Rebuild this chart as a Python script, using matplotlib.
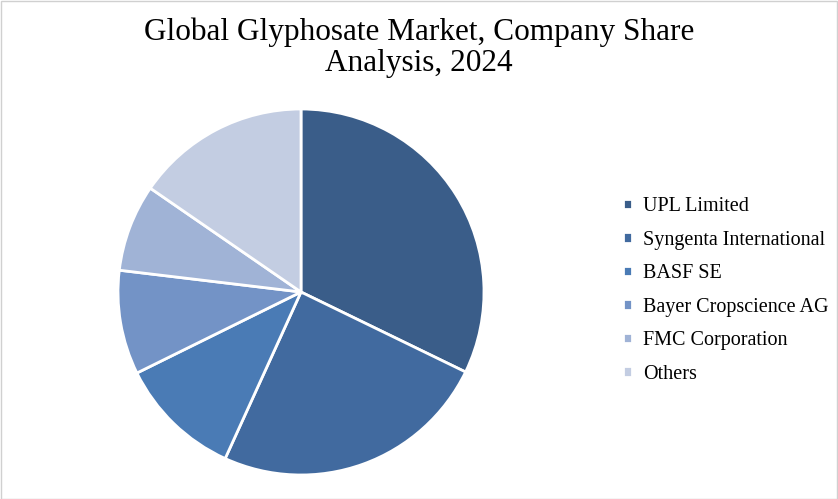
import matplotlib
matplotlib.use("Agg")
import matplotlib.pyplot as plt
from matplotlib.patches import Rectangle

labels = ["UPL Limited", "Syngenta International", "BASF SE", "Bayer Cropscience AG", "FMC Corporation", "Others"]
shares = [32.2, 24.6, 10.9, 9.2, 7.7, 15.4]
colors = ["#3a5d89", "#416a9f", "#4a7bb5", "#7393c6", "#a0b3d6", "#c3cde2"]

plt.rcParams['font.family'] = ['Liberation Serif', 'DejaVu Serif']
fig = plt.figure(figsize=(8.38, 4.99), dpi=100)
fig.patches.append(Rectangle((0.001, 0.001), 0.998, 0.997, transform=fig.transFigure,
                             fill=False, edgecolor="#d0d0d0", linewidth=1))
ax = fig.add_axes([301/838 - 183/838, 1 - (292 + 183)/499, 366/838, 366/499])
wedges, _ = ax.pie(shares, colors=colors, startangle=90, counterclock=False,
                   wedgeprops=dict(edgecolor="white", linewidth=2))
ax.set_xlim(-1.0, 1.0)
ax.set_ylim(-1.0, 1.0)
ax.set_aspect('equal')
fig.text(0.5, 0.965, "Global Glyphosate Market, Company Share\nAnalysis, 2024",
         ha="center", va="top", fontsize=22.5, linespacing=1.1)
fig.legend(wedges, labels, loc="center left", bbox_to_anchor=(0.722, 0.418),
           frameon=False, fontsize=14.5, handlelength=0.45, handleheight=0.45,
           handletextpad=0.55, labelspacing=0.72)
fig.savefig("out.png", dpi=100)
